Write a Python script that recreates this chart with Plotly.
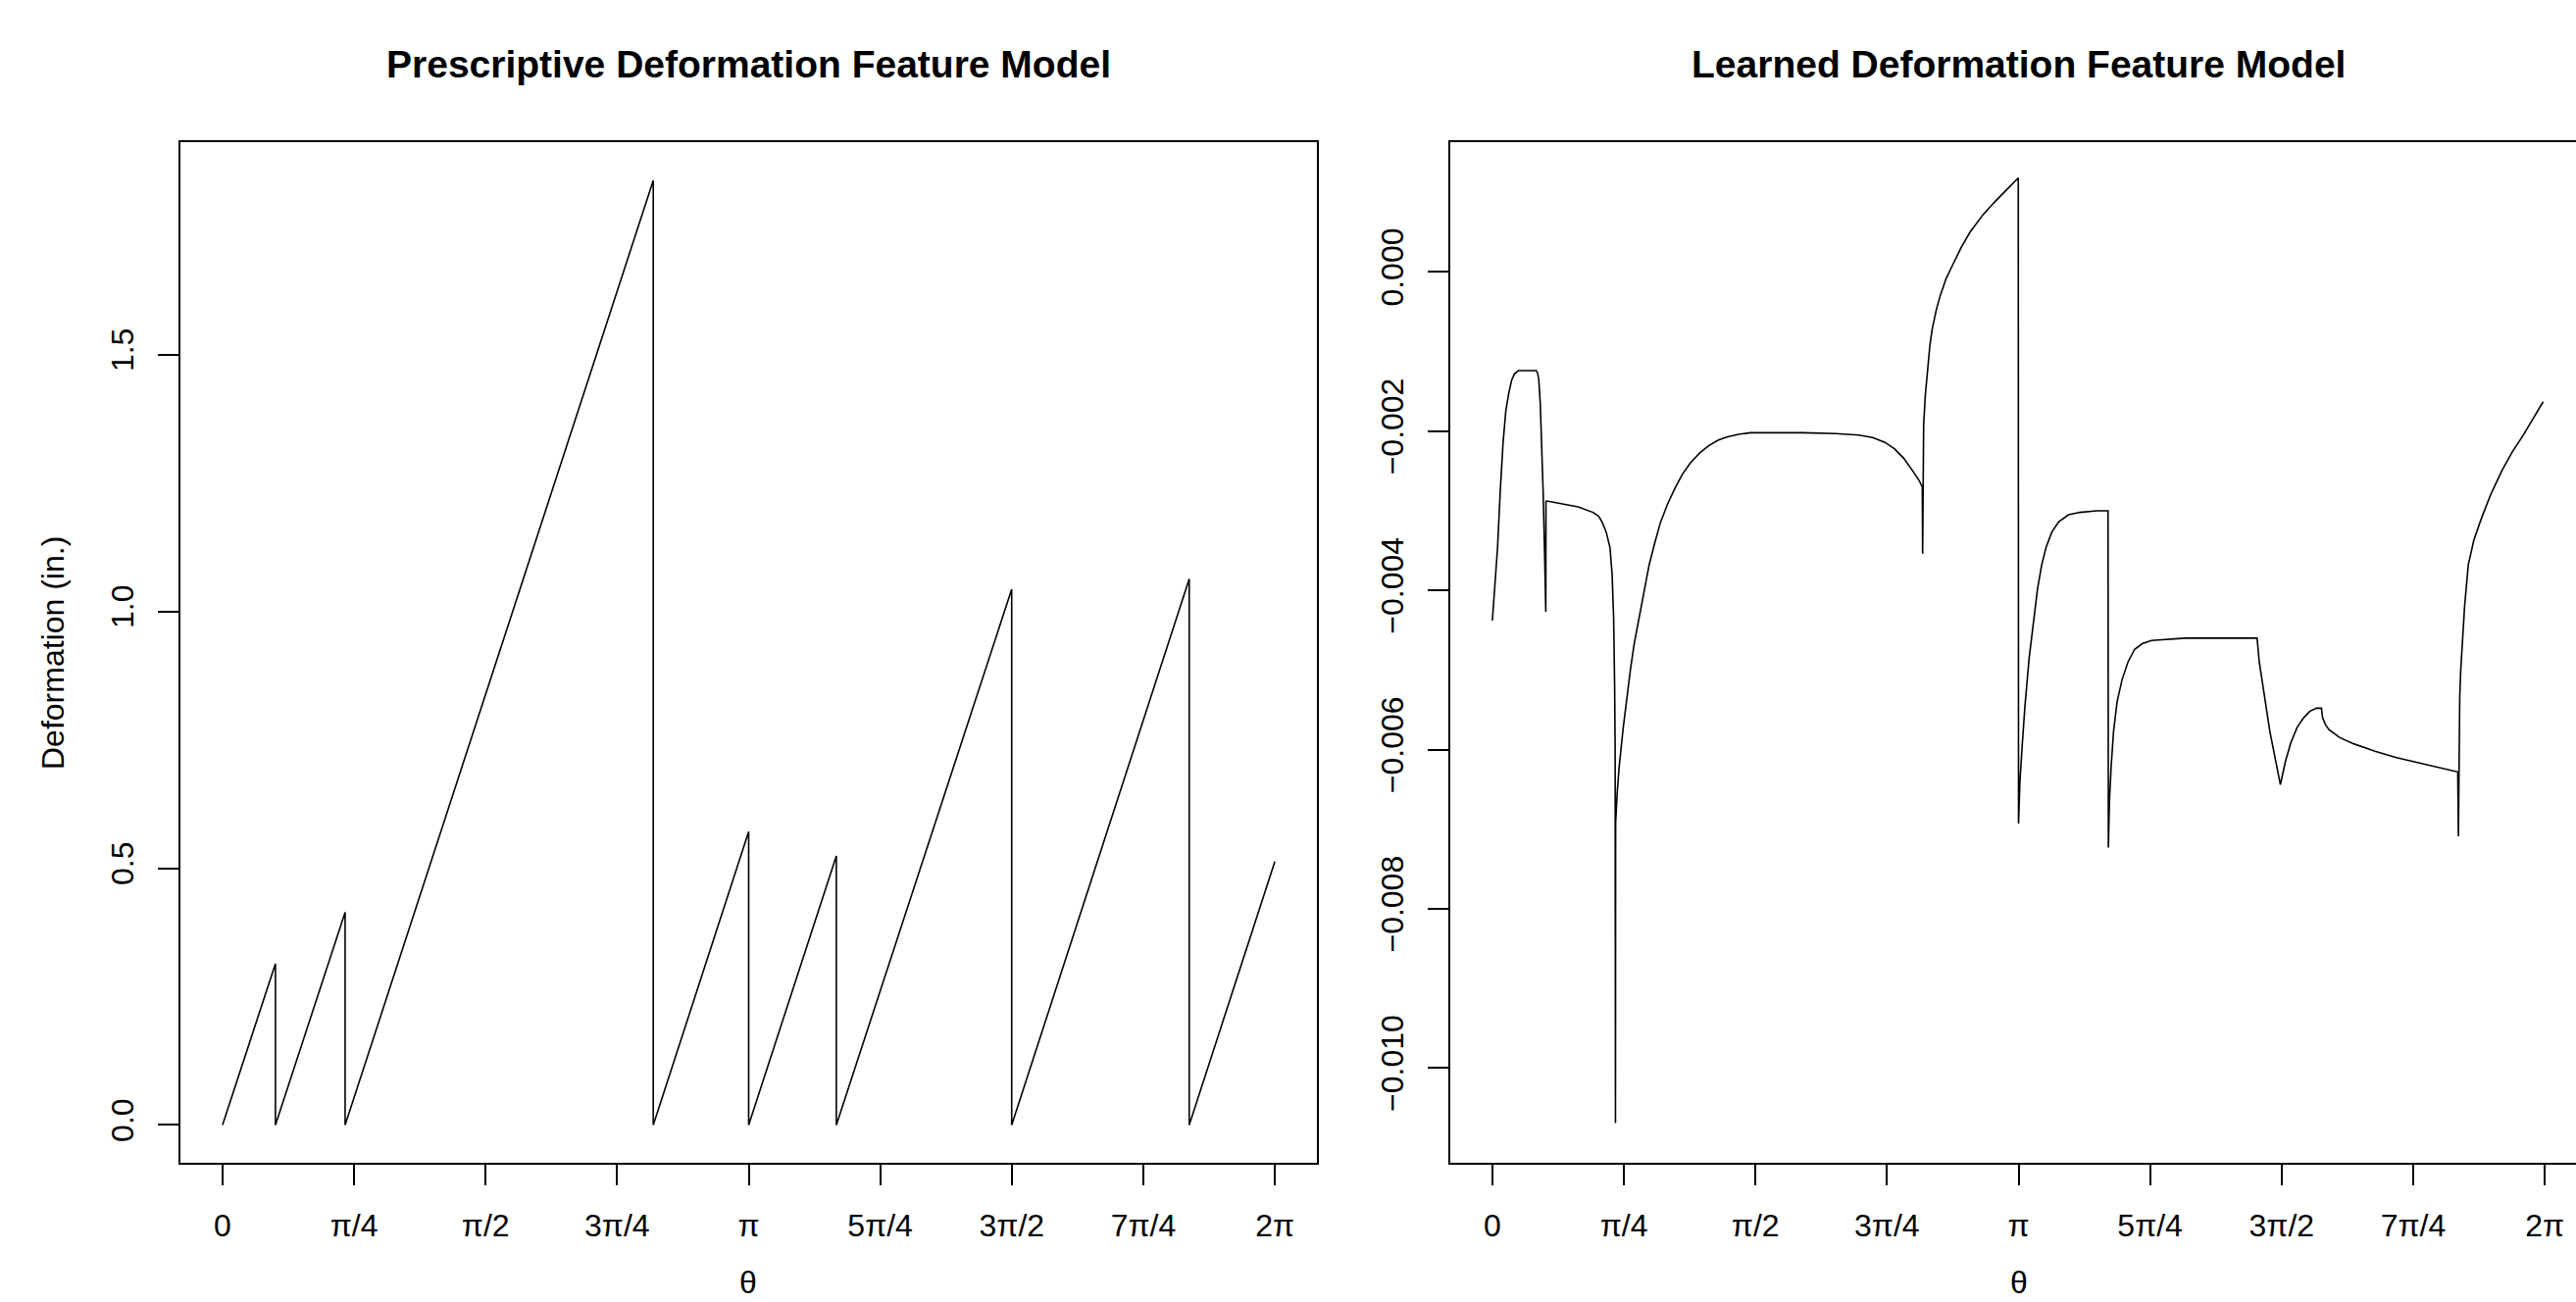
import math
import plotly.graph_objects as go

W, H = 2627, 1328

# ---------------- data ----------------
theta_tickvals = [0, math.pi / 4, math.pi / 2, 3 * math.pi / 4, math.pi,
                  5 * math.pi / 4, 3 * math.pi / 2, 7 * math.pi / 4, 2 * math.pi]
theta_ticktext = ["0", "π/4", "π/2", "3π/4", "π", "5π/4", "3π/2", "7π/4", "2π"]

# Prescriptive model (sawtooth vertices)
pres_theta = [0.000, 0.316, 0.316, 0.732, 0.732, 2.572, 2.572, 3.1416, 3.1416,
              3.665, 3.665, 4.712, 4.712, 5.772, 5.772, 6.2832]
pres_def = [0.000, 0.314, 0.000, 0.414, 0.000, 1.839, 0.000, 0.571, 0.000,
            0.524, 0.000, 1.043, 0.000, 1.063, 0.000, 0.513]
pres_yticks = [0.0, 0.5, 1.0, 1.5]
pres_yticktext = ["0.0", "0.5", "1.0", "1.5"]

# Learned model
learn_theta = [
    0.000, 0.015, 0.031, 0.047, 0.064, 0.080, 0.098, 0.115, 0.132, 0.155, 0.262,
    0.270, 0.277, 0.286, 0.295, 0.303, 0.311, 0.319,
    0.320, 0.333, 0.512, 0.601, 0.635, 0.657, 0.680, 0.702, 0.715, 0.724, 0.730, 0.733, 0.735,
    0.736, 0.745, 0.757, 0.780, 0.802, 0.824, 0.846, 0.869, 0.900, 0.936, 0.970, 1.003,
    1.045, 1.092, 1.135, 1.182, 1.240, 1.294, 1.350, 1.405, 1.470, 1.540,
    1.852, 2.050, 2.187, 2.270, 2.344, 2.400, 2.456, 2.495, 2.523, 2.548, 2.567, 2.569, 2.571,
    2.573, 2.575, 2.585, 2.600, 2.612, 2.625, 2.650, 2.675, 2.710, 2.751, 2.800, 2.852,
    2.930, 3.004, 3.070, 3.134, 3.140,
    3.1416, 3.150, 3.165, 3.180, 3.205, 3.230, 3.255, 3.280, 3.306, 3.340, 3.381, 3.440,
    3.508, 3.609, 3.676,
    3.678, 3.684, 3.695, 3.709, 3.730, 3.760, 3.795, 3.835, 3.880, 3.936, 4.138, 4.566,
    4.579, 4.610, 4.642, 4.675, 4.705,
    4.735, 4.768, 4.805, 4.844, 4.880, 4.919, 4.950,
    4.957, 4.975, 4.995, 5.060, 5.146, 5.270, 5.398, 5.580, 5.764, 5.768,
    5.772, 5.776, 5.782, 5.789, 5.805, 5.827, 5.860, 5.903, 5.960, 6.029, 6.090, 6.155,
    6.215, 6.274]
learn_def = [
    -0.00438, -0.00395, -0.00346, -0.00275, -0.00214, -0.00175, -0.00152, -0.00136, -0.00128, -0.00124, -0.00124,
    -0.00127, -0.00135, -0.00165, -0.00213, -0.00275, -0.00346, -0.00427,
    -0.00288, -0.00288, -0.00295, -0.00302, -0.00307, -0.00315, -0.00327, -0.00346, -0.00380, -0.00434, -0.00520, -0.00600, -0.01069,
    -0.00692, -0.00655, -0.00622, -0.00575, -0.00534, -0.00500, -0.00468, -0.00442, -0.00405, -0.00368, -0.00340, -0.00315,
    -0.00292, -0.00271, -0.00254, -0.00240, -0.00227, -0.00218, -0.00211, -0.00207, -0.00204, -0.00202,
    -0.00202, -0.00203, -0.00205, -0.00208, -0.00214, -0.00222, -0.00234, -0.00245, -0.00254, -0.00262, -0.00270, -0.00354, -0.00270,
    -0.00230, -0.00192, -0.00155, -0.00117, -0.00093, -0.00073, -0.00048, -0.00029, -0.00008, 0.00010, 0.00031, 0.00050,
    0.00072, 0.00089, 0.00103, 0.00116, 0.00118,
    -0.00693, -0.00640, -0.00590, -0.00545, -0.00485, -0.00438, -0.00398, -0.00368, -0.00346, -0.00327, -0.00314, -0.00305,
    -0.00302, -0.00300, -0.00300,
    -0.00723, -0.00666, -0.00620, -0.00577, -0.00540, -0.00512, -0.00490, -0.00474, -0.00467, -0.00463, -0.00460, -0.00460,
    -0.00490, -0.00535, -0.00577, -0.00612, -0.00644,
    -0.00615, -0.00591, -0.00572, -0.00560, -0.00552, -0.00548, -0.00548,
    -0.00560, -0.00569, -0.00575, -0.00585, -0.00593, -0.00602, -0.00610, -0.00619, -0.00628, -0.00709,
    -0.00600, -0.00534, -0.00500, -0.00472, -0.00420, -0.00368, -0.00337, -0.00311, -0.00280, -0.00249, -0.00226, -0.00205,
    -0.00184, -0.00163]
learn_yticks = [0.000, -0.002, -0.004, -0.006, -0.008, -0.010]
learn_yticktext = ["0.000", "−0.002", "−0.004", "−0.006", "−0.008", "−0.010"]

# ---------------- figure ----------------
FONT = "Liberation Sans, Arial, Helvetica, sans-serif"
LW = 1.6

fig = go.Figure()
fig.add_trace(go.Scatter(x=pres_theta, y=pres_def, mode="lines",
                         line=dict(color="black", width=LW),
                         xaxis="x", yaxis="y", showlegend=False, hoverinfo="skip"))
fig.add_trace(go.Scatter(x=learn_theta, y=learn_def, mode="lines",
                         line=dict(color="black", width=LW),
                         xaxis="x2", yaxis="y2", showlegend=False, hoverinfo="skip"))

def fx(p):
    return p / W

def fy(p):
    return 1 - p / H

common = dict(showline=True, linecolor="black", linewidth=2, ticks="outside",
              ticklen=21, tickwidth=2, tickcolor="black", showgrid=False,
              zeroline=False, tickfont=dict(family=FONT, size=32, color="black"),
              fixedrange=True)

box_top, box_bot = 145, 1186
ydom = [fy(box_bot), fy(box_top)]
rad_px = (1343 - 184) / (6.5345 + 0.2513)
x2_right = -0.2513 + (W - 1479) / rad_px

fig.update_layout(
    width=W, height=H, margin=dict(l=0, r=0, t=0, b=0),
    paper_bgcolor="white", plot_bgcolor="white",
    xaxis=dict(domain=[fx(184), fx(1343)], range=[-0.2513, 6.5345], anchor="y",
               tickvals=theta_tickvals, ticktext=theta_ticktext, mirror=True,
               ticklabelstandoff=14, **common),
    yaxis=dict(domain=ydom, range=[-0.0736, 1.9136], anchor="x",
               tickvals=pres_yticks, ticktext=pres_yticktext, tickangle=-90, mirror=True,
               ticklabelstandoff=12, **common),
    xaxis2=dict(domain=[fx(1479), 1.0], range=[-0.2513, x2_right], anchor="y2",
                tickvals=theta_tickvals, ticktext=theta_ticktext, mirror=True,
                ticklabelstandoff=14, **common),
    yaxis2=dict(domain=ydom, range=[-0.01119, 0.00163], anchor="x2",
                tickvals=learn_yticks, ticktext=learn_yticktext, tickangle=-90, mirror=False,
                ticklabelstandoff=12, **common),
)

annos = [
    dict(text="<b>Prescriptive Deformation Feature Model</b>", x=fx(763.5), y=fy(65),
         font=dict(size=39)),
    dict(text="<b>Learned Deformation Feature Model</b>", x=fx(2058.5), y=fy(65),
         font=dict(size=39)),
    dict(text="Deformation (in.)", x=fx(54), y=fy(666), textangle=-90, font=dict(size=32)),
    dict(text="θ", x=fx(763.5), y=0, yanchor="bottom", font=dict(size=32)),
    dict(text="θ", x=fx(2058.5), y=0, yanchor="bottom", font=dict(size=32)),
]
for a in annos:
    a.setdefault("yanchor", "middle")
    a["font"] = dict(family=FONT, color="black", **a["font"])
    fig.add_annotation(xref="paper", yref="paper", xanchor="center", showarrow=False, **a)

fig.write_html("out.html")
